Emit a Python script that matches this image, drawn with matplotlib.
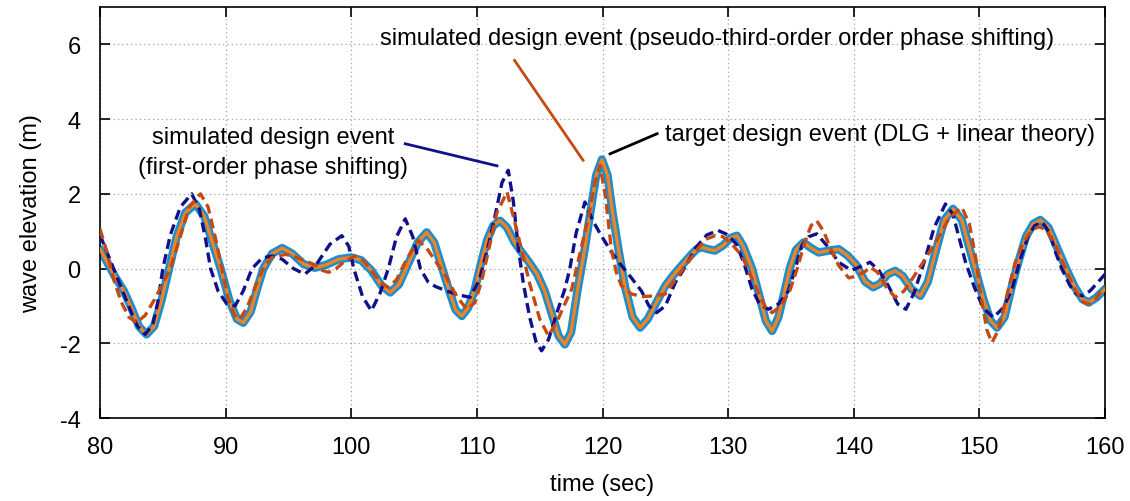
import matplotlib
matplotlib.use("Agg")
import matplotlib.pyplot as plt

# values (time in s, elevation in m)

# target design event (DLG + linear theory)
t_target = [80.0, 80.6, 81.2, 81.9, 82.5, 83.1, 83.7, 84.3, 84.9, 85.5,
            86.1, 86.8, 87.6, 88.3, 88.9, 89.6, 90.3, 90.9, 91.4, 92.0,
            92.5, 93.0, 93.7, 94.5, 95.3, 96.2, 97.1, 98.0, 99.0, 100.0,
            100.8, 101.6, 102.4, 103.1, 103.8, 104.5, 105.3, 106.0, 106.6, 107.2,
            107.8, 108.3, 108.8, 109.3, 109.8, 110.3, 110.8, 111.3, 111.85, 112.4,
            113.0, 113.6, 114.2, 114.8, 115.4, 116.0, 116.5, 117.0, 117.5, 118.0,
            118.6, 119.1, 119.5, 119.95, 120.4, 120.8, 121.3, 121.8, 122.4, 123.0,
            123.6, 124.3, 125.0, 125.7, 126.3, 127.0, 127.5, 127.9, 128.4, 128.95,
            129.6, 130.2, 130.7, 131.2, 131.9, 132.5, 133.0, 133.5, 134.0, 134.5,
            134.9, 135.4, 136.0, 136.6, 137.2, 138.0, 138.8, 139.5, 140.2, 140.9,
            141.55, 142.1, 142.7, 143.3, 143.9, 144.6, 145.3, 145.9, 146.5, 147.2,
            147.9, 148.6, 149.2, 149.7, 150.3, 150.9, 151.4, 152.0, 152.6, 153.1,
            153.7, 154.3, 154.85, 155.5, 156.2, 156.9, 157.6, 158.2, 158.7, 159.3,
            160.0]
v_target = [0.52, 0.15, -0.22, -0.6, -1.05, -1.55, -1.76, -1.55, -0.85, 0.0,
            0.85, 1.5, 1.73, 1.4, 0.75, 0.0, -0.85, -1.35, -1.45, -1.15,
            -0.55, 0.0, 0.4, 0.55, 0.4, 0.12, 0.02, 0.1, 0.25, 0.3,
            0.22, -0.05, -0.45, -0.64, -0.42, 0.1, 0.7, 0.97, 0.7, 0.05,
            -0.6, -1.1, -1.27, -1.05, -0.6, 0.1, 0.75, 1.15, 1.28, 1.1,
            0.7, 0.42, 0.15, -0.15, -0.6, -1.25, -1.8, -2.03, -1.7, -0.6,
            0.55, 1.65, 2.5, 2.92, 2.5, 1.5, 0.45, -0.5, -1.3, -1.58,
            -1.35, -0.9, -0.46, -0.15, 0.08, 0.35, 0.52, 0.57, 0.52, 0.48,
            0.62, 0.82, 0.88, 0.6, 0.0, -0.75, -1.4, -1.67, -1.3, -0.6,
            0.0, 0.5, 0.7, 0.55, 0.43, 0.48, 0.52, 0.35, 0.1, -0.35,
            -0.5, -0.4, -0.15, -0.06, -0.2, -0.55, -0.73, -0.35, 0.43, 1.3,
            1.6, 1.3, 0.55, -0.05, -0.8, -1.4, -1.58, -1.3, -0.45, 0.17,
            0.85, 1.2, 1.3, 1.1, 0.55, 0.0, -0.5, -0.82, -0.91, -0.78,
            -0.55]

# simulated design event (first-order phase shifting)
t_first = [80.0, 80.6, 81.2, 81.8, 82.4, 83.0, 83.6, 84.2, 84.6, 85.0,
           85.6, 86.4, 87.3, 87.9, 88.4, 88.8, 89.4, 90.1, 90.75, 91.4,
           92.1, 92.9, 93.7, 94.5, 95.4, 96.3, 97.2, 98.3, 99.25, 99.8,
           100.2, 100.9, 101.6, 102.3, 102.95, 103.6, 104.3, 104.9, 105.5, 106.1,
           106.7, 107.6, 108.5, 109.45, 110.2, 110.9, 111.45, 112.0, 112.5, 112.9,
           113.3, 113.7, 114.2, 114.7, 115.15, 115.7, 116.4, 117.0, 117.4, 117.9,
           118.6, 119.2, 119.9, 120.7, 121.5, 122.3, 123.1, 123.7, 124.3, 125.0,
           125.8, 126.6, 127.4, 128.3, 129.2, 130.0, 130.7, 131.3, 131.9, 132.5,
           133.2, 134.0, 134.8, 135.35, 135.85, 136.4, 137.05, 137.9, 138.8, 139.8,
           140.5, 141.3, 142.0, 142.75, 143.5, 144.15, 144.8, 145.6, 146.4, 147.3,
           147.9, 148.4, 148.9, 149.6, 150.3, 151.1, 151.9, 152.6, 153.3, 153.9,
           154.4, 155.0, 155.6, 156.1, 156.55, 157.2, 157.7, 158.2, 158.8, 159.4,
           160.0]
v_first = [0.9, 0.4, -0.1, -0.6, -1.1, -1.55, -1.76, -1.5, -0.9, 0.0,
           0.9, 1.65, 2.0, 1.6, 0.8, 0.0, -0.6, -0.95, -1.0, -0.6,
           0.0, 0.28, 0.34, 0.25, 0.0, -0.15, 0.1, 0.65, 0.88, 0.6,
           0.0, -0.75, -1.13, -0.65, 0.0, 0.85, 1.33, 0.85, 0.0, -0.35,
           -0.48, -0.6, -0.7, -0.77, -0.3, 0.6, 1.42, 2.3, 2.63, 1.8,
           0.55, -0.4, -1.3, -1.95, -2.2, -1.9, -1.15, -0.55, 0.0, 0.95,
           1.78, 1.3, 0.88, 0.45, 0.08, -0.25, -0.6, -1.0, -1.18, -1.0,
           -0.37, 0.05, 0.55, 0.9, 1.02, 0.9, 0.63, 0.1, -0.55, -0.95,
           -1.09, -0.95, -0.6, 0.0, 0.61, 0.85, 0.93, 0.6, 0.17, -0.05,
           0.05, 0.17, -0.05, -0.46, -0.95, -1.09, -0.65, 0.17, 1.1, 1.73,
           1.45, 0.8, 0.17, -0.5, -1.05, -1.31, -1.05, -0.55, 0.3, 0.88,
           1.15, 1.24, 0.95, 0.4, 0.0, -0.45, -0.68, -0.73, -0.6, -0.38,
           -0.15]

# simulated design event (pseudo-third-order phase shifting)
t_third = [80.0, 80.5, 81.1, 81.7, 82.3, 82.9, 83.6, 84.3, 85.0, 85.6,
           86.3, 87.1, 88.0, 88.6, 89.2, 89.7, 90.2, 90.7, 91.1, 91.7,
           92.4, 93.1, 93.7, 94.2, 94.8, 95.6, 96.4, 97.1, 97.7, 98.2,
           98.8, 99.5, 100.3, 101.0, 101.7, 102.4, 102.95, 103.6, 104.4, 105.35,
           106.0, 106.7, 107.5, 108.4, 109.2, 109.85, 110.4, 111.0, 111.6, 112.4,
           112.9, 113.55, 114.2, 115.0, 115.7, 116.4, 117.0, 117.55, 118.2, 118.9,
           119.4, 119.8, 120.25, 120.7, 121.1, 121.5, 122.3, 123.2, 124.2, 125.0,
           125.8, 126.6, 127.4, 128.2, 128.95, 129.6, 130.3, 131.1, 131.8, 132.4,
           133.0, 133.5, 134.2, 134.9, 135.5, 136.1, 136.6, 137.05, 137.6, 138.2,
           138.8, 139.6, 140.2, 140.9, 141.3, 141.9, 142.6, 143.3, 144.0, 144.8,
           145.7, 146.6, 147.6, 148.6, 149.2, 149.7, 150.1, 150.6, 151.0, 151.5,
           152.2, 152.85, 153.5, 154.1, 154.7, 155.3, 156.1, 156.9, 157.6, 158.2,
           158.7, 159.3, 160.0]
v_third = [1.06, 0.5, -0.3, -0.9, -1.3, -1.45, -1.25, -0.85, -0.4, 0.0,
           0.75, 1.65, 2.0, 1.65, 0.8, 0.0, -0.8, -1.25, -1.36, -1.05,
           -0.45, 0.08, 0.3, 0.34, 0.38, 0.3, 0.2, 0.1, -0.05, -0.1,
           0.0, 0.2, 0.34, 0.2, -0.1, -0.4, -0.5, -0.3, 0.25, 0.75,
           0.55, 0.2, -0.19, -0.75, -1.09, -0.91, -0.3, 0.6, 1.5, 2.05,
           1.4, 0.52, -0.4, -1.35, -1.8, -1.4, -0.95, -0.55, 0.4, 1.42,
           2.3, 2.76, 1.9, 0.52, -0.1, -0.46, -0.68, -0.75, -0.73, -0.68,
           -0.3, 0.08, 0.45, 0.78, 0.88, 0.85, 0.65, 0.34, -0.2, -0.64,
           -1.05, -1.18, -1.0, -0.6, 0.0, 0.7, 1.15, 1.28, 1.0, 0.5,
           0.08, -0.25, -0.2, -0.08, 0.04, -0.1, -0.5, -0.77, -0.6, -0.2,
           0.26, 0.75, 1.35, 1.64, 1.2, 0.3, -0.7, -1.65, -1.98, -1.65,
           -0.7, 0.17, 0.7, 1.0, 1.12, 1.05, 0.6, -0.05, -0.55, -0.88,
           -0.95, -0.8, -0.46]

x_ticks = [80, 90, 100, 110, 120, 130, 140, 150, 160]
y_ticks = [-4, -2, 0, 2, 4, 6]

plt.rcParams['font.family'] = ['Liberation Sans', 'DejaVu Sans']
plt.rcParams['axes.unicode_minus'] = False

fig = plt.figure(figsize=(11.3, 5.02), dpi=100)
ax = fig.add_axes([0.0885, 0.1653, 0.8894, 0.8187])

# target: thick blue line with orange core
ax.plot(t_target, v_target, color="#1a8fd0", lw=6.0, solid_joinstyle="round",
        solid_capstyle="round", zorder=2)
ax.plot(t_target, v_target, color="#f5821f", lw=2.3, solid_joinstyle="round", zorder=3)

dash = (0, (3.0, 1.6))
ax.plot(t_first, v_first, color="#10108a", lw=2.4, linestyle=dash, zorder=4)
ax.plot(t_third, v_third, color="#c44a14", lw=2.4, linestyle=dash, zorder=4)

# annotations
ax.text(129.1, 6.17, "simulated design event (pseudo-third-order order phase shifting)",
        ha="center", va="center", fontsize=17)
ax.plot([113.0, 118.45], [5.57, 2.9], color="#c44a14", lw=2.0)

ax.text(93.8, 3.53, "simulated design event", ha="center", va="center", fontsize=17)
ax.text(93.8, 2.72, "(first-order phase shifting)", ha="center", va="center", fontsize=17)
ax.plot([104.3, 111.6], [3.34, 2.75], color="#10108a", lw=2.0)

ax.text(125.0, 3.61, "target design event (DLG + linear theory)", ha="left", va="center",
        fontsize=17)
ax.plot([120.6, 124.35], [3.07, 3.61], color="black", lw=2.0)

ax.set_xlim(80, 160)
ax.set_ylim(-4, 7)
ax.set_xticks(x_ticks)
ax.set_yticks(y_ticks)
ax.grid(True, color="#a0a0a0", linestyle=(0, (1, 2.5)), lw=0.9)
ax.tick_params(direction="in", length=7, width=1.2, top=True, right=True, labelsize=17)
ax.tick_params(axis="x", pad=13)
ax.tick_params(axis="y", pad=14)
for sp in ax.spines.values():
    sp.set_linewidth(1.2)
ax.set_xlabel("time (sec)", fontsize=17, labelpad=11)
ax.set_ylabel("wave elevation (m)", fontsize=17, labelpad=13)

fig.savefig("out.png", dpi=100)
